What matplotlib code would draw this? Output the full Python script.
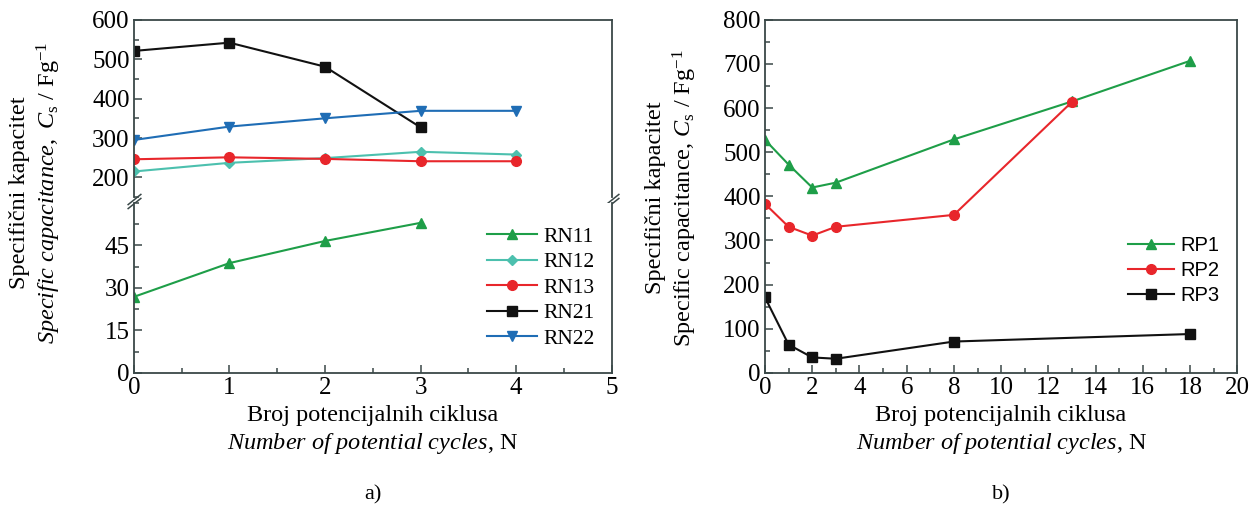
import numpy as np
import matplotlib
matplotlib.use('Agg')
import matplotlib.pyplot as plt
from matplotlib.ticker import MultipleLocator

plt.rcParams['font.family'] = ['Liberation Serif', 'DejaVu Serif']
plt.rcParams['mathtext.fontset'] = 'custom'
plt.rcParams['mathtext.rm'] = 'Liberation Serif'
plt.rcParams['mathtext.it'] = 'Liberation Serif:italic'
plt.rcParams['mathtext.bf'] = 'Liberation Serif:bold'

# podaci - panel a)
n_rn11 = [0, 1, 2, 3]
rn11 = [26.8, 38.7, 46.5, 52.9]
n_rn12 = [0, 1, 2, 3, 4]
rn12 = [215, 237, 249, 265, 258]
n_rn13 = [0, 1, 2, 3, 4]
rn13 = [246, 251, 247, 241, 241]
n_rn21 = [0, 1, 2, 3]
rn21 = [521, 542, 481, 327]
n_rn22 = [0, 1, 2, 3, 4]
rn22 = [295, 329, 350, 369, 369]

# podaci - panel b)
n_rp1 = [0, 1, 2, 3, 8, 13, 18]
rp1 = [528, 472, 420, 431, 529, 615, 707]
n_rp2 = [0, 1, 2, 3, 8, 13]
rp2 = [383, 331, 311, 331, 358, 614]
n_rp3 = [0, 1, 2, 3, 8, 18]
rp3 = [171, 64, 35, 32, 71, 88]

GREEN = '#1e9e48'
TEAL = '#4cc0ae'
RED = '#e8262b'
BLACK = '#111111'
BLUE = '#1f6db5'
SPINE = '#3a4848'

FS = 17.5      # natpisi osi
TFS = 18       # brojevi na osima
LFS = 15.5     # legenda


def style_axes(ax):
    for s in ax.spines.values():
        s.set_color(SPINE)
        s.set_linewidth(1.3)
    ax.tick_params(which='both', direction='in', top=False, right=False,
                   labelsize=TFS, color=SPINE, width=1.1, pad=3)
    ax.tick_params(which='major', length=6)
    ax.tick_params(which='minor', length=3.5)


fig = plt.figure(figsize=(12.51, 5.08), dpi=100)

# panel a) - gornji i donji dio (prekinuta os)
ax_up = fig.add_axes([0.107, 0.612, 0.382, 0.349])
ax_lo = fig.add_axes([0.107, 0.266, 0.382, 0.335])

kw = dict(lw=1.5, ms=7)
ax_lo.plot(n_rn11, rn11, '-^', color=GREEN, label='RN11', **kw)
ax_up.plot(n_rn12, rn12, '-D', color=TEAL, ms=5.5, lw=1.5)
ax_up.plot(n_rn13, rn13, '-o', color=RED, **kw)
ax_up.plot(n_rn21, rn21, '-s', color=BLACK, ms=6.5, lw=1.5)
ax_up.plot(n_rn22, rn22, '-v', color=BLUE, **kw)

# legenda u donjem dijelu
ax_lo.plot([], [], '-D', color=TEAL, ms=5.5, lw=1.5, label='RN12')
ax_lo.plot([], [], '-o', color=RED, label='RN13', **kw)
ax_lo.plot([], [], '-s', color=BLACK, ms=6.5, lw=1.5, label='RN21')
ax_lo.plot([], [], '-v', color=BLUE, label='RN22', **kw)
ax_lo.legend(loc='center right', bbox_to_anchor=(1.0, 0.5), frameon=False,
             fontsize=LFS, handlelength=2.3, handletextpad=0.3,
             labelspacing=0.25, borderaxespad=0.4)

for ax in (ax_up, ax_lo):
    ax.set_xlim(0, 5)
    ax.xaxis.set_major_locator(MultipleLocator(1))
    ax.xaxis.set_minor_locator(MultipleLocator(0.5))
    style_axes(ax)

ax_up.set_ylim(150, 600)
ax_up.yaxis.set_minor_locator(MultipleLocator(50))
ax_up.set_yticks([200, 300, 400, 500, 600])
ax_up.spines['bottom'].set_visible(False)
ax_up.tick_params(axis='x', which='both', bottom=False, labelbottom=False)

ax_lo.set_ylim(0, 60)
ax_lo.set_yticks([0, 15, 30, 45])
ax_lo.yaxis.set_minor_locator(MultipleLocator(7.5))
ax_lo.spines['top'].set_visible(False)

# oznake prekida
d = 0.8
bk = dict(marker=[(-1, -d), (1, d)], markersize=10, linestyle='none',
          color=SPINE, mec=SPINE, mew=1.1, clip_on=False)
ax_up.plot([0, 1], [-0.012, -0.012], transform=ax_up.transAxes, **bk)
ax_up.plot([0, 1], [-0.035, -0.035], transform=ax_up.transAxes, **bk)

ax_lo.set_xlabel('Broj potencijalnih ciklusa\n'
                 r'$\mathit{Number\ of\ potential\ cycles}$, N',
                 fontsize=FS, linespacing=1.3, labelpad=4)
fig.text(0.029, 0.62, 'Specifični kapacitet\n'
         r'$\mathit{Specific\ capacitance,}$ $C_{\mathrm{s}}$ / Fg$^{-1}$',
         rotation=90, ha='center', va='center', fontsize=FS,
         linespacing=1.25)
fig.text(0.298, 0.025, 'a)', ha='center', va='center', fontsize=FS - 1.5)

# panel b)
ax_b = fig.add_axes([0.6115, 0.266, 0.3775, 0.695])
ax_b.plot(n_rp1, rp1, '-^', color=GREEN, label='RP1', **kw)
ax_b.plot(n_rp2, rp2, '-o', color=RED, label='RP2', **kw)
ax_b.plot(n_rp3, rp3, '-s', color=BLACK, label='RP3', ms=6.5, lw=1.5)
ax_b.set_xlim(0, 20)
ax_b.set_ylim(0, 800)
ax_b.xaxis.set_major_locator(MultipleLocator(2))
ax_b.xaxis.set_minor_locator(MultipleLocator(1))
ax_b.yaxis.set_major_locator(MultipleLocator(100))
ax_b.yaxis.set_minor_locator(MultipleLocator(50))
style_axes(ax_b)
ax_b.legend(loc='center right', bbox_to_anchor=(1.0, 0.29), frameon=False,
            prop={'family': 'Liberation Sans', 'size': LFS - 1},
            handlelength=2.3, handletextpad=0.3, labelspacing=0.3)
ax_b.set_xlabel('Broj potencijalnih ciklusa\n'
                r'$\mathit{Number\ of\ potential\ cycles}$, N',
                fontsize=FS, linespacing=1.3, labelpad=4)
fig.text(0.537, 0.61, 'Specifični kapacitet\n'
         r'Specific capacitance, $\mathit{C}_{\mathrm{s}}$ / Fg$^{-1}$',
         rotation=90, ha='center', va='center', fontsize=FS,
         linespacing=1.25)
fig.text(0.80, 0.025, 'b)', ha='center', va='center', fontsize=FS - 1.5)

fig.savefig('out.png', dpi=100, facecolor='white')
